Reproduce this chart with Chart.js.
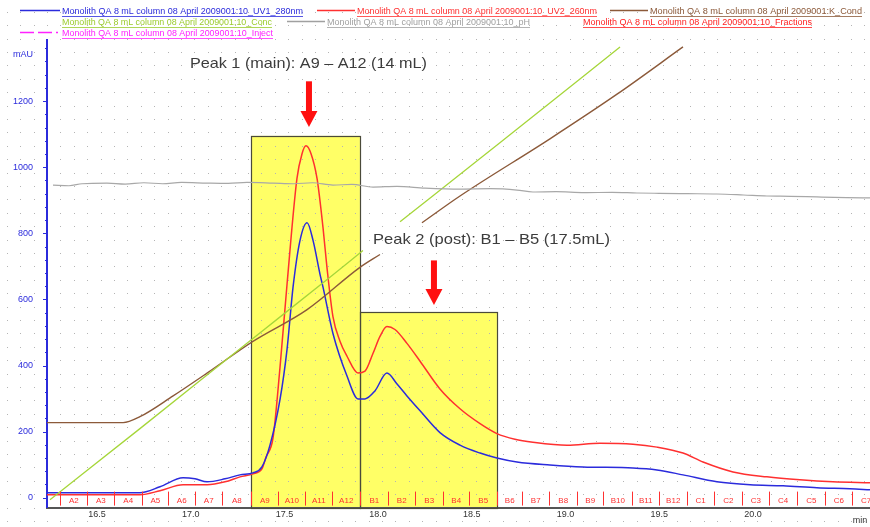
<!DOCTYPE html>
<html><head><meta charset="utf-8">
<script src="https://cdn.jsdelivr.net/npm/chart.js@4.4.0/dist/chart.umd.min.js"></script>
<style>html,body{margin:0;padding:0;background:#fff;overflow:hidden}#wrap{width:870px;height:527px}</style>
</head><body><div id="wrap"><canvas id="c" width="870" height="527"></canvas></div>
<script>
// ---- data (x in min, y in mAU) ----
const xTickValues = [16.5, 17.0, 17.5, 18.0, 18.5, 19.0, 19.5, 20.0];
const yTickValues = [0, 200, 400, 600, 800, 1000, 1200];

const uv1Time = [16.233,16.516,16.729,16.836,16.959,17.023,17.087,17.183,17.263,17.332,17.380,17.423,17.477,17.514,17.546,17.583,17.621,17.653,17.690,17.706,17.759,17.834,17.893,17.930,17.983,18.047,18.101,18.154,18.224,18.330,18.437,18.544,18.634,18.741,18.917,19.093,19.360,19.488,19.627,19.808,19.985,20.161,20.342,20.518,20.625];
const uv1Mau  = [15,15,15,33,60,57,48,57,69,75,93,159,299,449,637,778,832,778,676,637,497,368,299,299,323,377,344,308,263,197,159,135,120,108,99,93,90,84,69,48,39,36,30,27,24];

const uv2Time = [16.233,16.729,16.836,16.959,17.087,17.183,17.263,17.332,17.380,17.402,17.439,17.477,17.514,17.567,17.594,17.615,17.642,17.674,17.706,17.727,17.759,17.797,17.834,17.893,17.930,17.973,18.010,18.047,18.090,18.154,18.224,18.330,18.437,18.544,18.634,18.730,18.826,19.008,19.184,19.360,19.488,19.627,19.734,19.894,20.075,20.251,20.427,20.625];
const uv2Mau  = [9,9,21,39,39,48,63,72,87,123,180,398,646,966,1041,1065,1041,966,817,697,548,473,428,377,383,437,488,518,509,467,413,329,269,224,194,177,168,159,165,162,153,135,108,78,63,54,48,45];

const concTime = [16.249,16.729,17.332,17.743,17.919,18.0,18.117,18.650,19.291];
const concVal  = [-6,209,482,667,748,null,835,1074,1364];

const condTime = [16.233,16.639,16.729,16.906,17.087,17.332,17.621,17.903,18.010,18.1,18.234,18.437,18.917,19.275,19.627];
const condVal  = [227,227,245,308,377,473,569,697,736,null,832,913,1086,1221,1364];

const phTime = [16.265,16.35,16.42,16.553,16.65,16.75,16.85,16.95,17.087,17.2,17.3,17.439,17.55,17.65,17.759,17.86,17.973,18.1,18.25,18.437,18.6,18.741,18.826,18.95,19.1,19.25,19.381,19.5,19.65,19.808,19.95,20.075,20.2,20.342,20.5,20.625];
const phVal  = [946,944,950,952,949,953,950,954,952,951,954,952,950,953,946,948,940,942,937,934,935,931,925,926,923,924,922,921,920,919,916,913,912,910,908,907];

const fractionLabels = ["A2","A3","A4","A5","A6","A7","A8","A9","A10","A11","A12","B1","B2","B3","B4","B5","B6","B7","B8","B9","B10","B11","B12","C1","C2","C3","C4","C5","C6","C7"];
const fractionStarts = [16.303,16.447,16.591,16.740,16.879,17.023,17.167,17.322,17.466,17.610,17.754,17.903,18.053,18.197,18.346,18.485,18.634,18.768,18.912,19.061,19.200,19.355,19.499,19.648,19.792,19.942,20.086,20.235,20.385,20.529];

const peakNames = ["Peak 1 (main): A9 \u2013 A12 (14 mL)", "Peak 2 (post): B1 \u2013 B5 (17.5mL)"];
const peakStart = [17.322, 17.903];
const peakEnd   = [17.903, 18.634];
const peakTop   = [1095, 562];

const legendLabels = [
 "Monolith QA 8 mL column 08 April 2009001:10_UV1_280nm",
 "Monolith QA 8 mL column 08 April 2009001:10_UV2_260nm",
 "Monolith QA 8 mL column 08 April 2009001:K_Cond",
 "Monolith QA 8 mL column 08 April 2009001:10_Conc",
 "Monolith QA 8 mL column 08 April 2009001:10_pH",
 "Monolith QA 8 mL column 08 April 2009001:10_Fractions",
 "Monolith QA 8 mL column 08 April 2009001:10_Inject"
];

// ---- styling ----
const FONT = "'Liberation Sans', Arial, sans-serif";
const C_UV1 = '#2b2bdc', C_UV2 = '#ff3030', C_COND = '#8c5a3a', C_CONC = '#a6d63a', C_PH = '#a8a8a8', C_INJ = '#ff22ff';

const pts = (t, v) => t.map((x, i) => ({x, y: v[i]}));
const ds = (label, t, v, color, w) => ({label, data: pts(t, v), borderColor: color, borderWidth: w, pointRadius: 0, fill: false, cubicInterpolationMode: 'monotone', spanGaps: false});

const legendLayout = [
 {x:62, y:12, w:241, s:[20,60], c:C_UV1},
 {x:357, y:12, w:240, s:[317,355], c:C_UV2},
 {x:650, y:12, w:212, s:[610,648], c:C_COND},
 {x:62, y:23, w:210, s:null, c:'#9acb2c'},
 {x:327, y:23, w:203, s:[287,325], c:'#a0a0a0'},
 {x:583, y:23, w:229, s:null, c:'#ff2020'},
 {x:62, y:34, w:211, s:[20,58], c:C_INJ, dash:[14,4]}
];

const deco = {
  id: 'deco',
  beforeDraw(chart) {
    const {ctx, scales: {x, y}} = chart;
    ctx.save();
    ctx.fillStyle = '#fff';
    ctx.fillRect(0, 0, chart.width, chart.height);
    for (let i = 0; i < peakStart.length; i++) {
      const l = x.getPixelForValue(peakStart[i]), r = x.getPixelForValue(peakEnd[i]);
      const t = y.getPixelForValue(peakTop[i]), b = y.bottom;
      ctx.fillStyle = '#ffff66';
      ctx.fillRect(l, t, r - l, b - t);
    }
    ctx.fillStyle = '#b4b4b4';
    const step = 13.4;
    for (let yy = y.bottom % step; yy < chart.height; yy += step)
      for (let xx = 47 % step; xx < chart.width; xx += step)
        ctx.fillRect(Math.round(xx), Math.round(yy), 1, 1);
    ctx.restore();
  },
  beforeDatasetsDraw(chart) {
    const {ctx, scales: {x, y}} = chart;
    ctx.save();
    ctx.strokeStyle = '#4a4a3a';
    ctx.lineWidth = 1.2;
    for (let i = 0; i < peakStart.length; i++) {
      const l = x.getPixelForValue(peakStart[i]), r = x.getPixelForValue(peakEnd[i]);
      const t = y.getPixelForValue(peakTop[i]), b = y.bottom;
      ctx.strokeRect(Math.round(l) + 0.5, Math.round(t) + 0.5, Math.round(r - l), Math.round(b - t));
    }
    // y-axis minor ticks
    ctx.strokeStyle = C_UV1; ctx.lineWidth = 1;
    for (let v = 0; v <= 1360; v += 40) {
      const py = Math.round(y.getPixelForValue(v)) + 0.5;
      ctx.beginPath(); ctx.moveTo(v % 200 === 0 ? 43 : 45, py); ctx.lineTo(47, py); ctx.stroke();
    }
    ctx.restore();
  },
  afterDraw(chart) {
    const {ctx, scales: {x, y}} = chart;
    ctx.save();
    // fractions
    ctx.strokeStyle = '#ff3030'; ctx.fillStyle = '#ff3030'; ctx.lineWidth = 1;
    ctx.font = '8px ' + FONT; ctx.textAlign = 'center'; ctx.textBaseline = 'middle';
    const yb = y.bottom;
    for (let i = 0; i < fractionStarts.length; i++) {
      const px = Math.round(x.getPixelForValue(fractionStarts[i])) + 0.5;
      ctx.beginPath(); ctx.moveTo(px, yb - 16); ctx.lineTo(px, yb - 2); ctx.stroke();
      const nx = i + 1 < fractionStarts.length ? x.getPixelForValue(fractionStarts[i + 1]) : px + 27;
      ctx.fillText(fractionLabels[i], (px + nx) / 2, yb - 7);
    }
    // arrows
    const arrow = (xv, v1, v2) => {
      const cx = x.getPixelForValue(xv), t = y.getPixelForValue(v1), tip = y.getPixelForValue(v2);
      ctx.fillStyle = '#ff1010';
      ctx.fillRect(cx - 3, t, 6, tip - t - 14);
      ctx.beginPath(); ctx.moveTo(cx - 8.5, tip - 16); ctx.lineTo(cx + 8.5, tip - 16); ctx.lineTo(cx, tip); ctx.closePath(); ctx.fill();
    };
    arrow(17.631, 1260, 1122);
    arrow(18.298, 718, 583);
    // peak labels
    ctx.fillStyle = '#3c3c3c'; ctx.font = '15px ' + FONT; ctx.textAlign = 'center'; ctx.textBaseline = 'middle';
    const label = (txt, xv, v, w) => {
      const px = x.getPixelForValue(xv), py = y.getPixelForValue(v);
      const m = ctx.measureText(txt).width;
      ctx.save(); ctx.translate(px, py); ctx.scale(w / m, 1); ctx.fillText(txt, 0, 0); ctx.restore();
    };
    label(peakNames[0], 17.628, 1314, 237);
    label(peakNames[1], 18.605, 781, 237);
    // axis extras
    ctx.fillStyle = C_UV1; ctx.font = '9px ' + FONT; ctx.textAlign = 'left';
    ctx.fillText('mAU', 13, 55);
    ctx.fillStyle = '#333'; ctx.font = '9px ' + FONT; ctx.textAlign = 'center';
    ctx.fillText('min', 860, 521);
    // legend
    ctx.font = '8.5px ' + FONT; ctx.textAlign = 'left'; ctx.textBaseline = 'middle';
    legendLayout.forEach((L, i) => {
      if (L.s) {
        ctx.strokeStyle = L.c; ctx.lineWidth = 1.3; ctx.setLineDash(L.dash || []);
        ctx.beginPath(); ctx.moveTo(L.s[0], L.y - 1.5); ctx.lineTo(L.s[1], L.y - 1.5); ctx.stroke();
        ctx.setLineDash([]);
      }
      const m = ctx.measureText(legendLabels[i]).width;
      ctx.save(); ctx.translate(L.x, L.y); ctx.scale(L.w / m, 1);
      ctx.fillStyle = L.c; ctx.fillText(legendLabels[i], 0, 0); ctx.restore();
      ctx.strokeStyle = L.c; ctx.lineWidth = 0.8;
      ctx.beginPath(); ctx.moveTo(L.x, L.y + 4.5); ctx.lineTo(L.x + L.w, L.y + 4.5); ctx.stroke();
    });
    ctx.restore();
  }
};

new Chart(document.getElementById('c'), {
  type: 'line',
  data: {
    datasets: [
      ds('pH', phTime, phVal, C_PH, 1.2),
      ds('Conc', concTime, concVal, C_CONC, 1.3),
      ds('Cond', condTime, condVal, C_COND, 1.4),
      ds('UV1_280nm', uv1Time, uv1Mau, C_UV1, 1.5),
      ds('UV2_260nm', uv2Time, uv2Mau, C_UV2, 1.5)
    ]
  },
  options: {
    responsive: false,
    devicePixelRatio: 1,
    animation: false,
    layout: {padding: {top: 40, left: 0, right: 0, bottom: 0}},
    plugins: {legend: {display: false}, tooltip: {enabled: false}},
    scales: {
      x: {
        type: 'linear', min: 16.233, max: 20.625,
        afterBuildTicks: s => { s.ticks = xTickValues.map(v => ({value: v})); },
        afterFit: s => { s.height = 14; },
        ticks: {autoSkip: false, maxRotation: 0, padding: 2, color: '#333', font: {size: 9, family: FONT}, callback: v => Number(v).toFixed(1)},
        grid: {display: false, drawTicks: false},
        border: {display: true, color: '#555', width: 2, dash: [2, 1]}
      },
      y: {
        type: 'linear', min: -30, max: 1385,
        afterBuildTicks: s => { s.ticks = yTickValues.map(v => ({value: v})); },
        afterFit: s => { s.width = 47; },
        ticks: {padding: 14, color: C_UV1, font: {size: 9, family: FONT}, callback: v => String(v)},
        grid: {display: false, drawTicks: false},
        border: {display: true, color: C_UV1, width: 2}
      }
    }
  },
  plugins: [deco]
});
</script>
</body></html>
